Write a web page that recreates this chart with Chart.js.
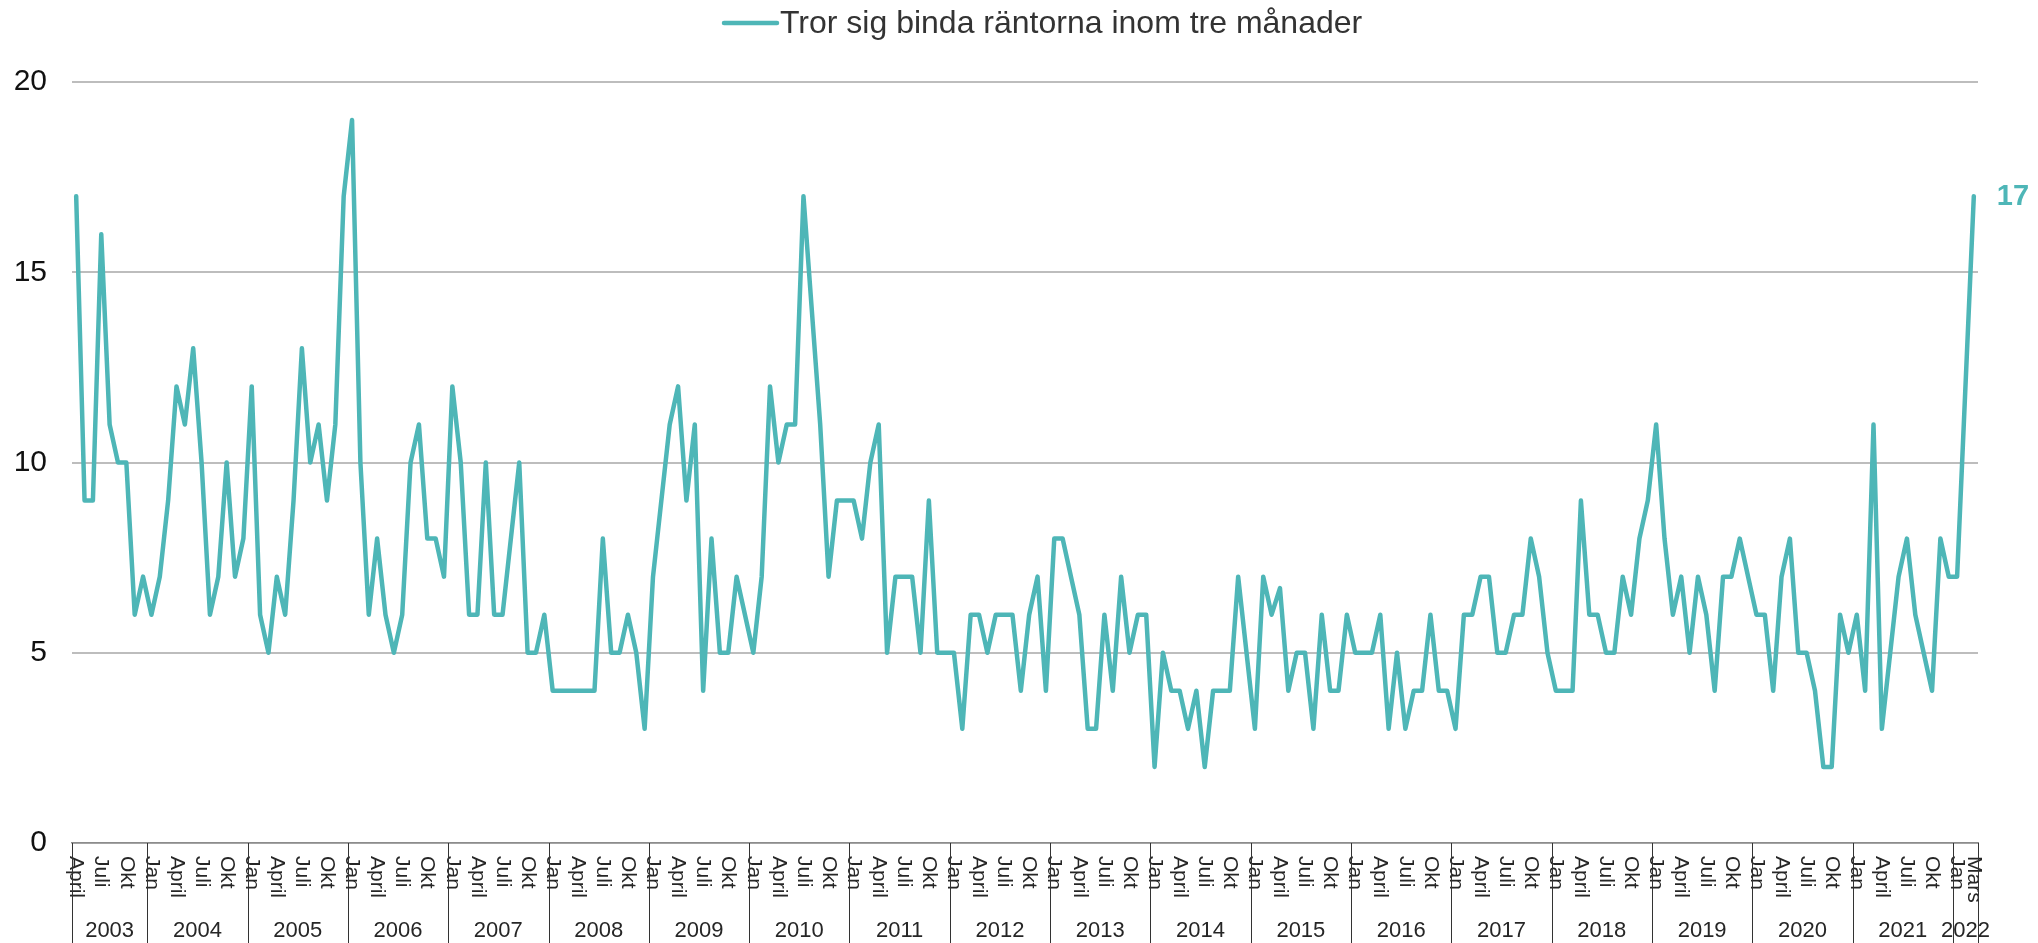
<!DOCTYPE html>
<html lang="sv">
<head>
<meta charset="utf-8">
<title>Tror sig binda räntorna inom tre månader</title>
<script src="https://cdn.jsdelivr.net/npm/chart.js@4.4.1/dist/chart.umd.min.js"></script>
<style>
  html, body { margin: 0; padding: 0; background: #fff; }
  #wrap { width: 2038px; height: 943px; position: relative; }
</style>
</head>
<body>
<div id="wrap"><canvas id="rantaChart"></canvas></div>
<script>
const years = [2003, 2004, 2005, 2006, 2007, 2008, 2009, 2010, 2011, 2012,
               2013, 2014, 2015, 2016, 2017, 2018, 2019, 2020, 2021, 2022];
const manader = ['Jan', 'Feb', 'Mars', 'April', 'Maj', 'Juni', 'Juli', 'Aug', 'Sep', 'Okt', 'Nov', 'Dec'];
const visadeManader = ['Jan', 'April', 'Juli', 'Okt'];
const forstaManad = 3;  // april 2003
const sistaManad = 2;   // mars 2022

// andel (%) som tror sig binda räntorna inom tre månader, en rad per år
const andel = [
  17, 9, 9, 16, 11, 10, 10, 6, 7,
  6, 7, 9, 12, 11, 13, 10, 6, 7, 10, 7, 8,
  12, 6, 5, 7, 6, 9, 13, 10, 11, 9, 11, 17,
  19, 10, 6, 8, 6, 5, 6, 10, 11, 8, 8, 7,
  12, 10, 6, 6, 10, 6, 6, 8, 10, 5, 5, 6,
  4, 4, 4, 4, 4, 4, 8, 5, 5, 6, 5, 3,
  7, 9, 11, 12, 9, 11, 4, 8, 5, 5, 7, 6,
  5, 7, 12, 10, 11, 11, 17, 14, 11, 7, 9, 9,
  9, 8, 10, 11, 5, 7, 7, 7, 5, 9, 5, 5,
  5, 3, 6, 6, 5, 6, 6, 6, 4, 6, 7, 4,
  8, 8, 7, 6, 3, 3, 6, 4, 7, 5, 6, 6,
  2, 5, 4, 4, 3, 4, 2, 4, 4, 4, 7, 5,
  3, 7, 6, 6.7, 4, 5, 5, 3, 6, 4, 4, 6,
  5, 5, 5, 6, 3, 5, 3, 4, 4, 6, 4, 4,
  3, 6, 6, 7, 7, 5, 5, 6, 6, 8, 7, 5,
  4, 4, 4, 9, 6, 6, 5, 5, 7, 6, 8, 9,
  11, 8, 6, 7, 5, 7, 6, 4, 7, 7, 8, 7,
  6, 6, 4, 7, 8, 5, 5, 4, 2, 2, 6, 5,
  6, 4, 11, 3, 5, 7, 8, 6, 5, 4, 8, 7,
  7, 12, 17
];

const kategorier = [];
const arForKategori = [];
years.forEach((ar, k) => {
  const fran = k === 0 ? forstaManad : 0;
  const till = k === years.length - 1 ? sistaManad : 11;
  for (let m = fran; m <= till; m++) {
    kategorier.push(manader[m]);
    arForKategori.push(ar);
  }
});

const teal = '#4eb6b7';
const fontFamily = '"Liberation Sans", Arial, sans-serif';

// månads- och årsetiketter under x-axeln, plus förklaring och sista värdet
const etiketter = {
  id: 'etiketter',
  afterDraw(chart) {
    const ctx = chart.ctx;
    const x = chart.scales.x;
    const area = chart.chartArea;
    const n = kategorier.length;
    ctx.save();

    ctx.fillStyle = '#262626';
    ctx.font = '21px ' + fontFamily;
    kategorier.forEach((lab, i) => {
      if (visadeManader.includes(lab) || i === n - 1) {
        ctx.save();
        ctx.translate(x.getPixelForValue(i), area.bottom + 13);
        ctx.rotate(Math.PI / 2);
        ctx.textAlign = 'left';
        ctx.textBaseline = 'middle';
        ctx.fillText(lab, 0, 0);
        ctx.restore();
      }
    });

    const kanter = [x.left];
    for (let i = 1; i < n; i++) {
      if (arForKategori[i] !== arForKategori[i - 1]) {
        kanter.push((x.getPixelForValue(i - 1) + x.getPixelForValue(i)) / 2);
      }
    }
    kanter.push(x.right);
    ctx.strokeStyle = '#333';
    ctx.lineWidth = 1;
    kanter.forEach(px => {
      const xx = Math.round(px) + 0.5;
      ctx.beginPath();
      ctx.moveTo(xx, area.bottom);
      ctx.lineTo(xx, chart.height);
      ctx.stroke();
    });

    ctx.font = '22px ' + fontFamily;
    ctx.textAlign = 'center';
    ctx.textBaseline = 'middle';
    years.forEach((ar, k) => {
      ctx.fillText(String(ar), (kanter[k] + kanter[k + 1]) / 2, 931);
    });

    // förklaring
    const lx = 724, ly = 23;
    ctx.strokeStyle = teal;
    ctx.lineWidth = 4.5;
    ctx.lineCap = 'round';
    ctx.beginPath();
    ctx.moveTo(lx, ly);
    ctx.lineTo(lx + 53, ly);
    ctx.stroke();
    ctx.fillStyle = '#333';
    ctx.font = '32px ' + fontFamily;
    ctx.textAlign = 'left';
    ctx.fillText(chart.data.datasets[0].label, lx + 56, ly + 1);

    // värdeetikett på sista punkten
    const meta = chart.getDatasetMeta(0);
    const sista = meta.data[n - 1];
    ctx.fillStyle = teal;
    ctx.font = 'bold 29px ' + fontFamily;
    ctx.fillText(String(andel[n - 1]), sista.x + 23, sista.y + 1);

    ctx.restore();
  }
};

const ctx = document.getElementById('rantaChart').getContext('2d');

const rantaChart = new Chart(ctx, {
  type: 'line',
  data: {
    labels: kategorier,
    datasets: [{
      label: 'Tror sig binda räntorna inom tre månader',
      data: andel,
      borderColor: teal,
      backgroundColor: teal,
      borderWidth: 4.5,
      borderJoinStyle: 'round',
      borderCapStyle: 'round',
      pointRadius: 0,
      pointHoverRadius: 0,
      tension: 0
    }]
  },
  options: {
    responsive: true,
    maintainAspectRatio: false,
    animation: false,
    devicePixelRatio: 1,
    layout: {
      padding: { top: 82, right: 60, bottom: 0, left: 0 }
    },
    plugins: {
      legend: { display: false },
      tooltip: { enabled: false },
      title: { display: false }
    },
    scales: {
      x: {
        offset: true,
        ticks: { display: false },
        grid: { display: false, drawTicks: false },
        border: { display: true, color: '#8c8c8c', width: 1.5 },
        afterFit: s => { s.height = 100; }
      },
      y: {
        min: 0,
        max: 20,
        ticks: {
          stepSize: 5,
          padding: 25,
          color: '#111',
          font: { size: 30, family: fontFamily }
        },
        grid: { color: '#bdbdbd', lineWidth: 2, drawTicks: false },
        border: { display: false },
        afterFit: s => { s.width = 72; }
      }
    }
  },
  plugins: [etiketter]
});
</script>
</body>
</html>
